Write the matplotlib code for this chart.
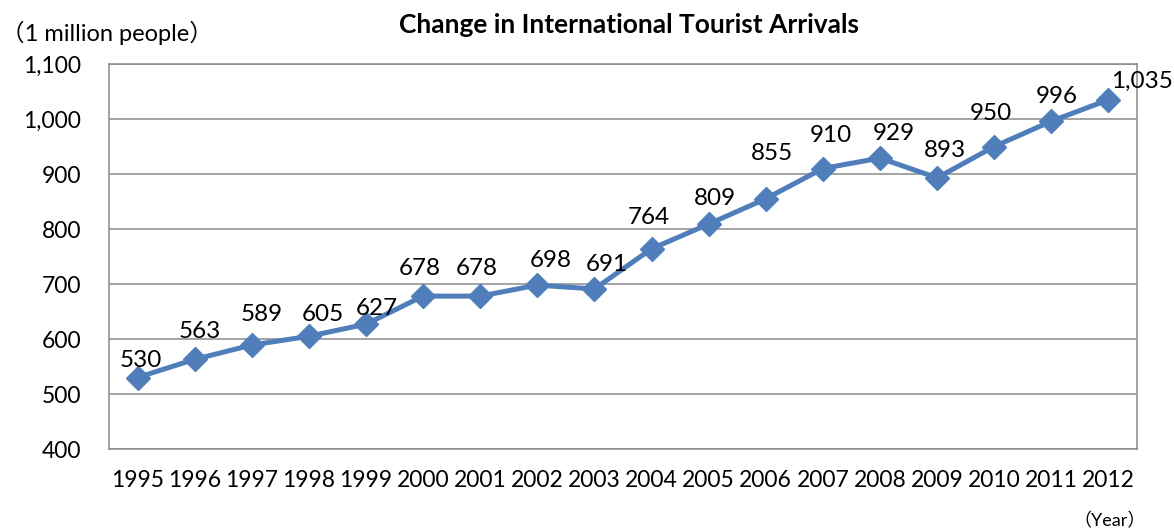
import matplotlib
matplotlib.use("Agg")
import matplotlib.pyplot as plt

years = [str(y) for y in range(1995, 2013)]
arrivals = [530, 563, 589, 605, 627, 678, 678, 698, 691, 764,
            809, 855, 910, 929, 893, 950, 996, 1035]
y_ticks = [400, 500, 600, 700, 800, 900, 1000, 1100]

title = "Change in International Tourist Arrivals"
y_unit = "（1 million people）"
x_unit = "（Year）"

# hand-placed label offsets (pixels from each marker)
label_dx = [3, 5, 10, 14, 11, -3, -3, 13, 12, -3, 6, 6, 8, 14, 8, -3, 5, 3]
label_dy = [17, 28, 31, 22, 16, 28, 28, 25, 24, 31, 26, 45, 33, 25, 27, 33, 25, 18]

LINE = "#4F7EBB"
GRID = "#8A8A8A"
FONTS = ["Lato", "Noto Sans CJK JP", "DejaVu Sans"]
plt.rcParams["font.family"] = FONTS

fig = plt.figure(figsize=(11.74, 5.32), dpi=100)
ax = fig.add_axes([0.0928, 0.156, 0.8757, 0.7237])

x = list(range(len(years)))
ax.plot(x, arrivals, color=LINE, lw=3.6, marker="D", ms=12,
        markerfacecolor=LINE, markeredgecolor=LINE, zorder=3)

for i, v in enumerate(arrivals):
    last = i == len(arrivals) - 1
    ax.annotate(f"{v:,}", (i, v), xytext=(label_dx[i], label_dy[i]),
                textcoords="offset pixels",
                ha="left" if last else "center", va="center",
                fontsize=17.5, color="black", annotation_clip=False)

ax.set_xlim(-0.5, len(years) - 0.5)
ax.set_ylim(400, 1100)
ax.set_yticks(y_ticks)
ax.set_yticklabels([f"{t:,}" for t in y_ticks])
ax.set_xticks(x)
ax.set_xticklabels(years)
ax.tick_params(axis="both", length=0, labelsize=16.5)
ax.tick_params(axis="y", pad=20)
ax.tick_params(axis="x", pad=15)
ax.yaxis.grid(True, color=GRID, lw=1.1)
ax.set_axisbelow(True)
for s in ax.spines.values():
    s.set_color(GRID)
    s.set_linewidth(1.1)

fig.text(0.536, 0.953, title, ha="center", va="center",
         fontsize=19, fontweight="bold")
fig.text(0.001, 0.938, y_unit, ha="left", va="center", fontsize=17)
fig.text(0.976, 0.021, x_unit, ha="right", va="center", fontsize=13)

fig.savefig("out.png", dpi=100)
